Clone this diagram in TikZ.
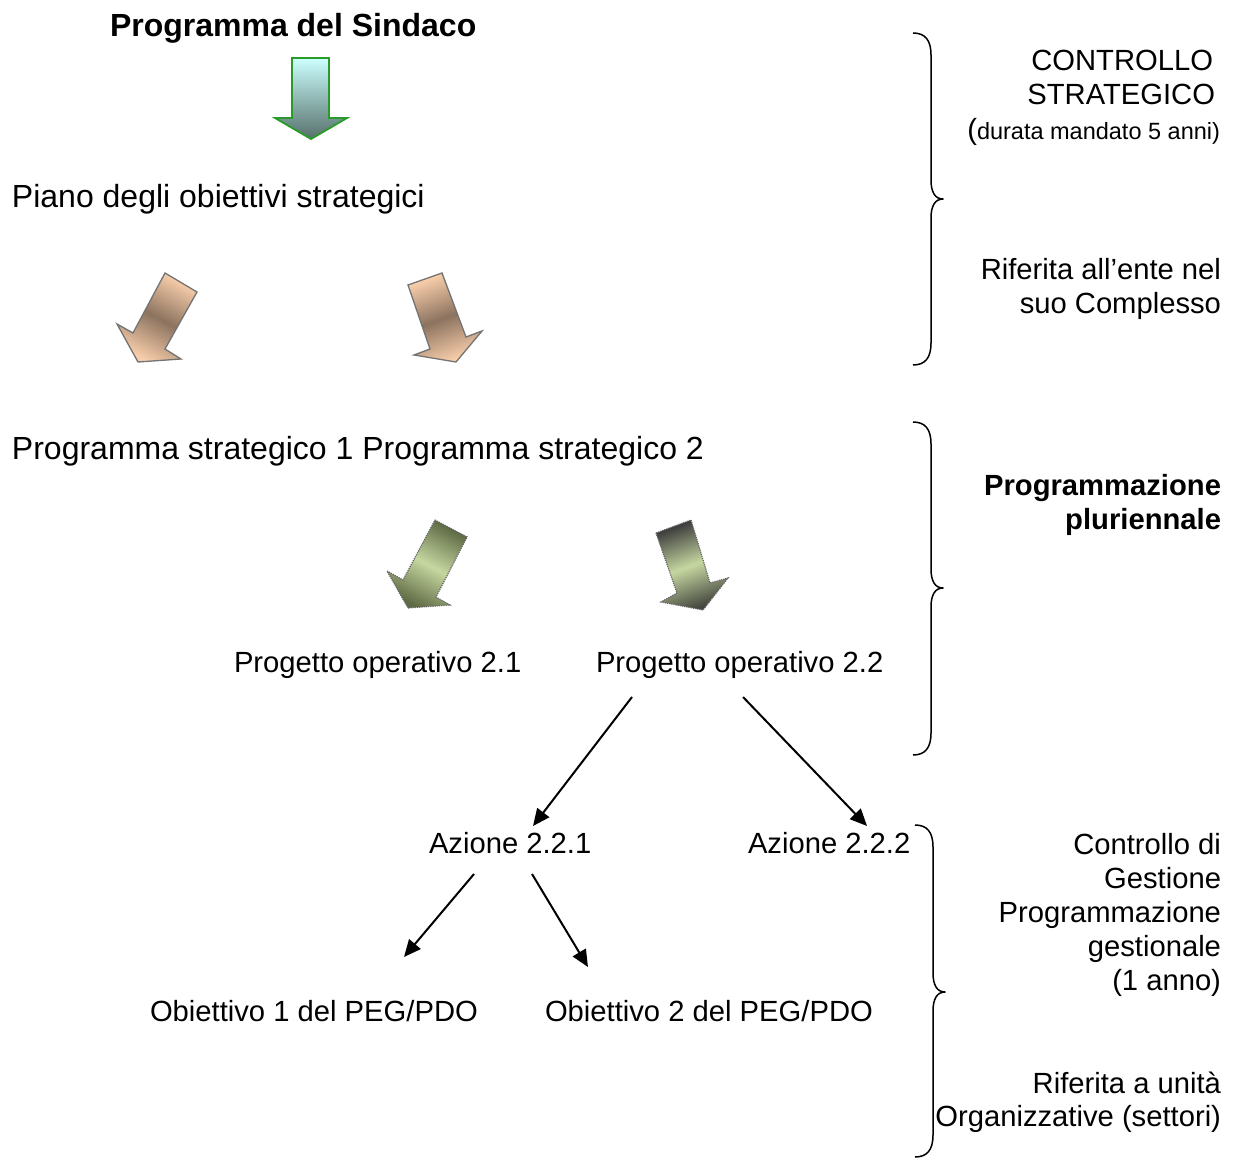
\documentclass[tikz,border=0pt]{standalone}
\usepackage{fontspec}
\setmainfont{Liberation Sans}
\usetikzlibrary{arrows.meta,calc}
\tikzset{
  txt/.style={inner sep=0pt, outer sep=0pt, font=\fontsize{29.2}{34}\selectfont},
  bigtxt/.style={inner sep=0pt, outer sep=0pt, font=\fontsize{32}{34}\selectfont, anchor=base west},
  lbl/.style={txt, anchor=base west},
  rlbl/.style={txt, anchor=base east},
  conn/.style={line width=2pt, -{Triangle[length=17pt,width=15pt]}},
  brace/.style={line width=1.5pt, line join=round},
  tanarrow/.style={draw=gray!90!black, line width=1.3pt, line join=miter,
    top color=tanlight, bottom color=tanlight, middle color=tandark},
  olivearrow/.style={draw=gray!80!black, densely dotted, line width=1.2pt}
}
\definecolor{tanlight}{HTML}{F7CDAA}
\definecolor{tandark}{HTML}{8C735F}
\definecolor{olivelight}{HTML}{C6D7A0}
\definecolor{olivedark}{HTML}{5E6A44}
\definecolor{greydark}{HTML}{3C3C3C}
\definecolor{cyanlight}{HTML}{CCFFFF}
\definecolor{tealdark}{HTML}{56706A}
\definecolor{greenline}{HTML}{2A9A2A}
\begin{document}
\begin{tikzpicture}[x=1pt,y=-1pt]
\useasboundingbox[fill=white] (0,0) rectangle (1237,1158);

% ---------- left column texts ----------
\node[bigtxt] (sind) at (110,37) {\bfseries Programma del Sindaco};
\node[bigtxt] (piano) at (12,208) {Piano degli obiettivi strategici};
\node[bigtxt] (ps) at (12,459) {Programma strategico 1 Programma strategico 2};
\node[lbl] (pr21) at (234,672) {Progetto operativo 2.1};
\node[lbl] (pr22) at (596,672) {Progetto operativo 2.2};
\node[lbl] (az1) at (429,853) {Azione 2.2.1};
\node[lbl] (az2) at (748,853) {Azione 2.2.2};
\node[lbl] (ob1) at (150,1021) {Obiettivo 1 del PEG/PDO};
\node[lbl] (ob2) at (545,1021) {Obiettivo 2 del PEG/PDO};

% ---------- block arrows ----------
\path[draw=greenline, line width=1.8pt, top color=cyanlight, bottom color=tealdark]
  (292,58) -- (329,58) -- (329,118) -- (347,118) -- (311,139) -- (275,118) -- (292,118) -- cycle;

\path[tanarrow, shading angle=-28]
  (165,273) -- (197,292) -- (165,349) -- (181,359) -- (138,362) -- (117,324) -- (133,333) -- cycle;
\path[tanarrow, shading angle=20]
  (408,285) -- (442,273) -- (466,337) -- (482,331) -- (456,362) -- (414,355) -- (430,349) -- cycle;

\path[olivearrow, top color=olivedark, bottom color=olivedark, middle color=olivelight, shading angle=-28]
  (435,520) -- (467,537) -- (436,597) -- (450,605) -- (408,608) -- (387,571) -- (403,580) -- cycle;
\path[olivearrow, top color=greydark, bottom color=greydark!80!olivedark, middle color=olivelight, shading angle=20]
  (656,533) -- (691,520) -- (710,583) -- (728,578) -- (703,610) -- (661,602) -- (677,593) -- cycle;

% ---------- connectors ----------
\draw[conn] ([shift={(36,25)}]pr22.base west) -- ([shift={(104,-27)}]az1.base west);
\draw[conn] ([shift={(147,25)}]pr22.base west) -- ([shift={(119,-27)}]az2.base west);
\draw[conn] ([shift={(45,21)}]az1.base west) -- ([shift={(254,-64)}]ob1.base west);
\draw[conn] ([shift={(103,21)}]az1.base west) -- ([shift={(43,-54)}]ob2.base west);

% ---------- braces ----------
\draw[brace] (913,33) .. controls (925,33) and (931,40) .. (931,55) -- (931,180)
  .. controls (931,192) and (935,199) .. (943,199)
  .. controls (935,199) and (931,206) .. (931,218) -- (931,343)
  .. controls (931,358) and (925,365) .. (913,365);
\draw[brace] (913,422) .. controls (925,422) and (931,429) .. (931,444) -- (931,569)
  .. controls (931,581) and (935,588) .. (943,588)
  .. controls (935,588) and (931,595) .. (931,607) -- (931,733)
  .. controls (931,748) and (925,755) .. (913,755);
\draw[brace] (915,825) .. controls (927,825) and (933,832) .. (933,847) -- (933,973)
  .. controls (933,985) and (937,992) .. (945,992)
  .. controls (937,992) and (933,999) .. (933,1011) -- (933,1135)
  .. controls (933,1150) and (927,1157) .. (915,1157);

% ---------- right column texts ----------
\node[rlbl] (cs1) at (1213,71) {CONTROLLO};
\node[rlbl] (cs2) at (1215,105) {STRATEGICO};
\node[rlbl] (cs3) at (1220,140) {(\fontsize{23.5}{26}\selectfont durata mandato 5 anni)};
\node[rlbl] (rif1) at (1221,280) {Riferita all’ente nel};
\node[rlbl] (rif2) at (1221,314) {suo Complesso};
\node[rlbl, font=\fontsize{29.2}{34}\selectfont\bfseries] (pp1) at (1221,495) {Programmazione};
\node[rlbl, font=\fontsize{29.2}{34}\selectfont\bfseries] (pp2) at (1221,529) {pluriennale};
\node[rlbl] (cg1) at (1221,854) {Controllo di};
\node[rlbl] (cg2) at (1221,888) {Gestione};
\node[rlbl] (cg3) at (1221,922) {Programmazione};
\node[rlbl] (cg4) at (1221,956) {gestionale};
\node[rlbl] (cg5) at (1221,990) {(1 anno)};
\node[rlbl] (ru1) at (1221,1093) {Riferita a unità};
\node[rlbl] (ru2) at (1221,1126) {Organizzative (settori)};
\end{tikzpicture}
\end{document}
